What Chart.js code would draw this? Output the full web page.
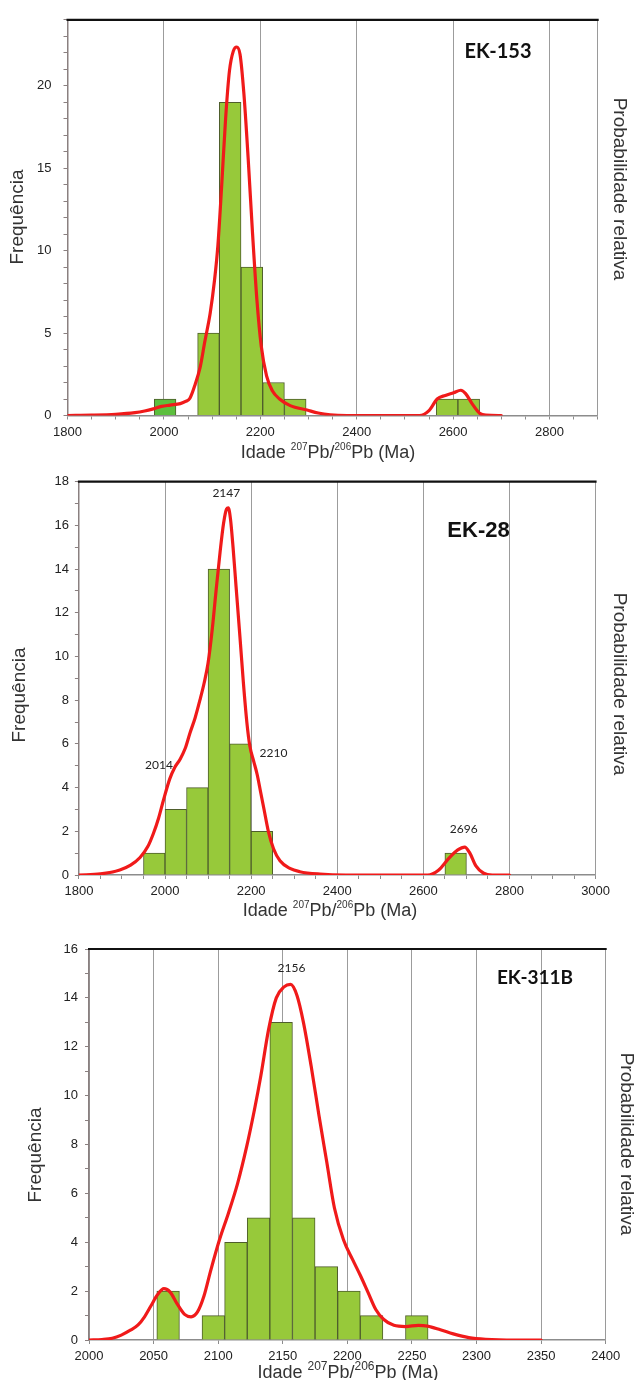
<!DOCTYPE html>
<html>
<head>
<meta charset="utf-8">
<script src="https://cdn.jsdelivr.net/npm/chart.js@4.4.1/dist/chart.umd.min.js"></script>
<style>
  body { margin: 0; background: #fff; }
  #wrap { position: relative; width: 634px; height: 1380px; overflow: hidden; }
  .panel { position: absolute; left: 0; width: 634px; }
</style>
</head>
<body>
<div id="wrap">
  <div class="panel" style="top:0;height:462px"><canvas id="c153"></canvas></div>
  <div class="panel" style="top:460px;height:462px"><canvas id="c28"></canvas></div>
  <div class="panel" style="top:915px;height:465px"><canvas id="c311"></canvas></div>
</div>
<script>
/* ---------------- EK-153 ---------------- */
const ek153BinWidth = 45;
const ek153BinStarts = [1980, 2070, 2115, 2160, 2205, 2250, 2565, 2610];
const ek153Counts = [1, 5, 19, 9, 2, 1, 1, 1];
const ek153CurveAges = [1800, 1850, 1900, 1940, 1960, 1978, 1995, 2013, 2034, 2045, 2054, 2065, 2075, 2085,
  2096, 2105, 2112, 2120, 2128, 2136, 2144, 2151, 2158, 2166, 2175, 2184, 2193, 2202, 2213, 2225, 2240,
  2262, 2297, 2320, 2345, 2380, 2530, 2550, 2567, 2584, 2601, 2616, 2626, 2639, 2655, 2668, 2700];
const ek153CurveProb = [0, 0.02, 0.07, 0.17, 0.27, 0.4, 0.55, 0.63, 0.72, 0.85, 1.05, 1.9, 2.9, 4.5,
  6.2, 8.2, 10.3, 14.0, 18.0, 20.9, 22.1, 22.35, 21.9, 19.5, 15.5, 11.0, 7.0, 4.2, 2.4, 1.5, 1.0,
  0.6, 0.33, 0.15, 0.04, 0, 0, 0.3, 1.0, 1.22, 1.38, 1.53, 1.33, 0.74, 0.14, 0.02, 0];

/* ---------------- EK-28 ---------------- */
const ek28BinWidth = 50;
const ek28BinStarts = [1950, 2000, 2050, 2100, 2150, 2200, 2650];
const ek28Counts = [1, 3, 4, 14, 6, 2, 1];
const ek28CurveAges = [1800, 1850, 1895, 1920, 1942, 1960, 1973, 1985, 1996, 2011, 2022, 2035, 2047, 2058,
  2070, 2081, 2091, 2100, 2110, 2119, 2128, 2136, 2143, 2147, 2152, 2158, 2165, 2174, 2182, 2190, 2197,
  2206, 2214, 2222, 2230, 2240, 2252, 2267, 2290, 2313, 2360, 2420, 2610, 2635, 2659, 2680, 2696, 2708,
  2722, 2740, 2760, 2800];
const ek28CurveProb = [0, 0.05, 0.23, 0.45, 0.8, 1.3, 1.9, 2.6, 3.4, 4.4, 4.9, 5.3, 5.8, 6.5,
  7.2, 8.0, 8.8, 9.7, 11.3, 13.1, 14.8, 16.1, 16.75, 16.8, 16.3, 15.0, 13.2, 10.9, 8.8, 7.0, 5.9,
  5.2, 4.6, 3.8, 3.0, 2.0, 1.2, 0.65, 0.3, 0.15, 0.04, 0, 0, 0.22, 0.76, 1.15, 1.28, 1.0,
  0.42, 0.08, 0, 0];
const ek28PeakAges = [2014, 2147, 2210, 2696];

/* ---------------- EK-311B ---------------- */
const ek311BinWidth = 17.5;
const ek311BinStarts = [2052.5, 2087.5, 2105, 2122.5, 2140, 2157.5, 2175, 2192.5, 2210, 2245];
const ek311Counts = [2, 1, 4, 5, 13, 5, 3, 2, 1, 1];
const ek311CurveAges = [2000, 2010, 2018, 2025, 2032, 2038, 2043, 2048, 2053, 2058, 2063, 2068, 2074, 2079,
  2084, 2089, 2094, 2101, 2108, 2115, 2122, 2128, 2133, 2139, 2145, 2151, 2156, 2161, 2166, 2172, 2178,
  2184, 2190, 2197, 2204, 2210, 2216, 2222, 2228, 2236, 2245, 2255, 2262, 2272, 2282, 2294, 2307, 2330, 2350];
const ek311CurveProb = [0, 0.02, 0.07, 0.2, 0.4, 0.62, 0.95, 1.4, 1.85, 2.1, 1.95, 1.5, 1.05, 0.95,
  1.15, 1.8, 2.8, 4.1, 5.2, 6.4, 7.9, 9.4, 10.8, 12.7, 14.0, 14.45, 14.55, 14.1, 13.0, 11.2, 9.2,
  7.3, 5.4, 4.1, 3.3, 2.65, 1.95, 1.25, 0.85, 0.6, 0.55, 0.6, 0.57, 0.42, 0.25, 0.1, 0.03, 0, 0];
const ek311PeakAges = [2156];

Chart.defaults.font.family = '"Liberation Sans", Arial, sans-serif';
Chart.defaults.color = '#222';

const BAR_GREEN = '#97c93a';
const BAR_DARK = '#5cbf3e';

function curveAt(ages, probs, a) {
  for (let i = 1; i < ages.length; i++) {
    if (a <= ages[i]) {
      const t = (a - ages[i - 1]) / (ages[i] - ages[i - 1]);
      return probs[i - 1] + t * (probs[i] - probs[i - 1]);
    }
  }
  return 0;
}

// "Idade 207Pb/206Pb (Ma)" with raised mass numbers
function drawAgeTitle(ctx, cx, base, size, supSize) {
  const parts = [['Idade ', size, 0], ['207', supSize, size * 0.45], ['Pb/', size, 0],
    ['206', supSize, size * 0.45], ['Pb (Ma)', size, 0]];
  let total = 0;
  parts.forEach(p => { ctx.font = p[1] + 'px "Liberation Sans", Arial'; total += ctx.measureText(p[0]).width; });
  let x = cx - total / 2;
  ctx.textAlign = 'left';
  ctx.textBaseline = 'alphabetic';
  parts.forEach(p => {
    ctx.font = p[1] + 'px "Liberation Sans", Arial';
    ctx.fillText(p[0], x, base - p[2]);
    x += ctx.measureText(p[0]).width;
  });
}

const panelText = {
  id: 'panelText',
  afterDraw(chart, args, o) {
    const ctx = chart.ctx;
    const a = chart.chartArea;
    ctx.save();
    // heavy top frame line
    ctx.strokeStyle = '#111';
    ctx.lineWidth = 2.2;
    ctx.beginPath();
    ctx.moveTo(a.left - 1, a.top);
    ctx.lineTo(a.right + 1, a.top);
    ctx.stroke();

    ctx.fillStyle = '#333';
    drawAgeTitle(ctx, o.xTitleX, o.xTitleBase, 18, o.supSize);

    ctx.font = '19px "Liberation Sans", Arial';
    ctx.textAlign = 'center';
    ctx.textBaseline = 'middle';
    ctx.save();
    ctx.translate(o.yTitle[0], o.yTitle[1]);
    ctx.rotate(-Math.PI / 2);
    ctx.fillText('Frequência', 0, 0);
    ctx.restore();
    ctx.save();
    ctx.translate(o.y2Title[0], o.y2Title[1]);
    ctx.rotate(Math.PI / 2);
    ctx.fillText('Probabilidade relativa', 0, 0);
    ctx.restore();

    // sample name
    ctx.fillStyle = '#111';
    ctx.font = o.sampleFont;
    ctx.fillText(o.sample, o.samplePos[0], o.samplePos[1]);

    // peak ages over the probability curve
    if (o.peaks) {
      const xs = chart.scales.x, ys = chart.scales.y2;
      ctx.font = '12px Lato, "Liberation Sans"';
      ctx.fillStyle = '#222';
      o.peaks.ages.forEach((age, i) => {
        const px = xs.getPixelForValue(age) + o.peaks.dx[i];
        const py = ys.getPixelForValue(curveAt(o.peaks.curveAges, o.peaks.curveProb, age)) + o.peaks.dy[i];
        ctx.fillText(String(age), px, py);
      });
    }
    ctx.restore();
  }
};

function makePanel(id, p) {
  const H = p.height;
  const bars = p.binStarts.map((s, i) => ({ x: s + p.binWidth / 2, y: p.counts[i] }));
  const curve = p.curveAges.map((a, i) => ({ x: a, y: p.curveProb[i] }));
  new Chart(document.getElementById(id), {
    type: 'bar',
    data: {
      datasets: [
        {
          type: 'line',
          data: curve,
          yAxisID: 'y2',
          order: 1,
          borderColor: '#f01a1a',
          borderWidth: 3.2,
          pointRadius: 0,
          fill: false,
          cubicInterpolationMode: 'monotone',
          borderJoinStyle: 'round',
          borderCapStyle: 'round'
        },
        {
          data: bars,
          yAxisID: 'y',
          order: 2,
          backgroundColor: p.barColors || BAR_GREEN,
          borderColor: '#4e5d2c',
          borderWidth: 1,
          barPercentage: 1,
          categoryPercentage: 1
        }
      ]
    },
    options: {
      responsive: true,
      maintainAspectRatio: false,
      animation: false,
      layout: { padding: { top: p.top, left: 0, right: 0, bottom: 0 } },
      plugins: {
        legend: { display: false },
        tooltip: { enabled: false },
        panelText: p.text
      },
      scales: {
        x: {
          type: 'linear',
          min: p.xMin,
          max: p.xMax,
          offset: false,
          afterFit: s => { s.height = H - p.bottom; },
          ticks: {
            stepSize: p.xStep,
            autoSkip: false,
            maxRotation: 0,
            padding: 5,
            color: '#222',
            font: { size: 13 },
            callback: v => (v % p.xLabelEvery === 0 ? v : '')
          },
          grid: {
            offset: false,
            tickLength: 4,
            tickColor: '#8c8c8c',
            lineWidth: 1,
            color: c => (c.tick && c.tick.value % p.xLabelEvery === 0 ? '#9c9c9c' : 'rgba(0,0,0,0)')
          },
          border: { color: '#8c8c8c', width: 1.5 }
        },
        y: {
          min: 0,
          max: p.yMax,
          afterFit: s => { s.width = p.left; },
          ticks: {
            stepSize: 1,
            autoSkip: false,
            padding: p.yPad,
            color: '#222',
            font: { size: 13 },
            callback: v => (v % p.yLabelEvery === 0 ? v : '')
          },
          grid: { drawOnChartArea: false, tickLength: 4, tickColor: '#8a8080' },
          border: { color: '#8a8080', width: 1.5 }
        },
        y2: {
          position: 'right',
          min: 0,
          max: p.yMax,
          afterFit: s => { s.width = 634 - p.right; },
          ticks: { display: false },
          grid: { drawOnChartArea: false, drawTicks: false },
          border: { color: '#9a9a9a', width: 1 }
        }
      }
    },
    plugins: [panelText]
  });
}

makePanel('c153', {
  height: 462, top: 13.3, bottom: 415.5, left: 67.5, right: 597.7,
  xMin: 1800, xMax: 2900, xStep: 50, xLabelEvery: 200,
  yMax: 24, yLabelEvery: 5, yPad: 12,
  binWidth: ek153BinWidth, binStarts: ek153BinStarts, counts: ek153Counts,
  barColors: ek153BinStarts.map(s => (s < 2050 ? BAR_DARK : BAR_GREEN)),
  curveAges: ek153CurveAges, curveProb: ek153CurveProb,
  text: {
    sample: 'EK-153', sampleFont: 'bold 20px Lato, "Liberation Sans"', samplePos: [498, 52],
    xTitleX: 328, xTitleBase: 458, supSize: 10,
    yTitle: [18, 217], y2Title: [619, 189]
  }
});

makePanel('c28', {
  height: 462, top: 21.7, bottom: 415, left: 78.9, right: 595.6,
  xMin: 1800, xMax: 3000, xStep: 50, xLabelEvery: 200,
  yMax: 18, yLabelEvery: 2, yPad: 6,
  binWidth: ek28BinWidth, binStarts: ek28BinStarts, counts: ek28Counts,
  curveAges: ek28CurveAges, curveProb: ek28CurveProb,
  text: {
    sample: 'EK-28', sampleFont: 'bold 22px "Liberation Sans", Arial', samplePos: [478.5, 71],
    xTitleX: 330, xTitleBase: 456, supSize: 10,
    yTitle: [20, 235], y2Title: [619, 224],
    peaks: { ages: ek28PeakAges, dx: [-12, -2, 18, -1], dy: [-11, -15, -15, -18],
      curveAges: ek28CurveAges, curveProb: ek28CurveProb }
  }
});

makePanel('c311', {
  height: 465, top: 34, bottom: 425, left: 89, right: 605.7,
  xMin: 2000, xMax: 2400, xStep: 50, xLabelEvery: 50,
  yMax: 16, yLabelEvery: 2, yPad: 7,
  binWidth: ek311BinWidth, binStarts: ek311BinStarts, counts: ek311Counts,
  curveAges: ek311CurveAges, curveProb: ek311CurveProb,
  text: {
    sample: 'EK-311B', sampleFont: 'bold 19px Lato, "Liberation Sans"', samplePos: [535, 63],
    xTitleX: 348, xTitleBase: 463, supSize: 12,
    yTitle: [36, 240], y2Title: [626, 229],
    peaks: { ages: ek311PeakAges, dx: [1], dy: [-16],
      curveAges: ek311CurveAges, curveProb: ek311CurveProb }
  }
});
</script>
</body>
</html>
